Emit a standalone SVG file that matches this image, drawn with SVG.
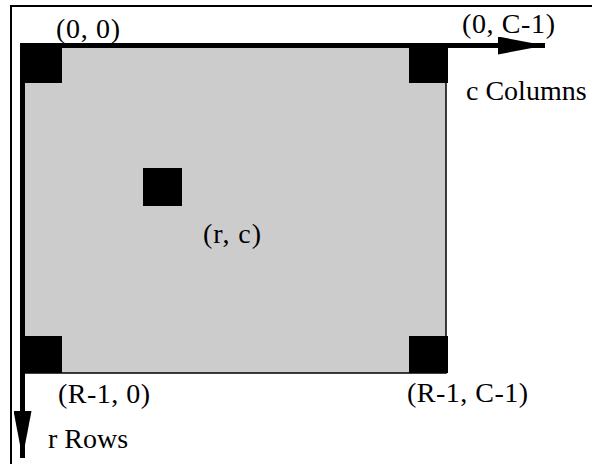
<svg xmlns="http://www.w3.org/2000/svg" width="592" height="464" viewBox="0 0 592 464">
<style>
.cell{fill:#000}
</style>
<defs>
<marker id="ah" markerUnits="userSpaceOnUse" markerWidth="48" markerHeight="18" refX="47" refY="9" orient="auto">
<path d="M0,0 L47,9 L0,18 Z" fill="#000"/>
</marker>
</defs>
<rect x="11" y="6" width="600" height="500" fill="#fff" stroke="#000" stroke-width="2"/>
<g id="matrix">
<rect x="22" y="46" width="424" height="327" fill="#cccccc" stroke="#000" stroke-width="1.5"/>
</g>
<g font-family="Liberation Serif, Times New Roman, serif" font-size="28" fill="#000">
<g id="cell00"><rect class="cell" x="20" y="44" width="42" height="39"/><text x="56" y="38" textLength="64" lengthAdjust="spacing">(0, 0)</text></g>
<g id="cell0C"><rect class="cell" x="409" y="44" width="39" height="39"/><text x="462" y="33" textLength="93" lengthAdjust="spacing">(0, C-1)</text></g>
<g id="cellR0"><rect class="cell" x="20" y="336" width="42" height="37"/><text x="58" y="403" textLength="92" lengthAdjust="spacing">(R-1, 0)</text></g>
<g id="cellRC"><rect class="cell" x="409" y="336" width="39" height="37"/><text x="407" y="402" textLength="121" lengthAdjust="spacing">(R-1, C-1)</text></g>
<g id="cellrc"><rect class="cell" x="143" y="168" width="39" height="38"/><text x="203" y="243" textLength="58" lengthAdjust="spacing">(r, c)</text></g>
<g id="labels">
<text x="466" y="100">c Columns</text>
<text x="48" y="448">r Rows</text>
</g>
</g>
<g id="connectors">
<line x1="20" y1="45.5" x2="545" y2="45.5" stroke="#000" stroke-width="5" marker-end="url(#ah)"/>
<line x1="22.5" y1="44" x2="22.5" y2="458" stroke="#000" stroke-width="5" marker-end="url(#ah)"/>
</g>
</svg>
